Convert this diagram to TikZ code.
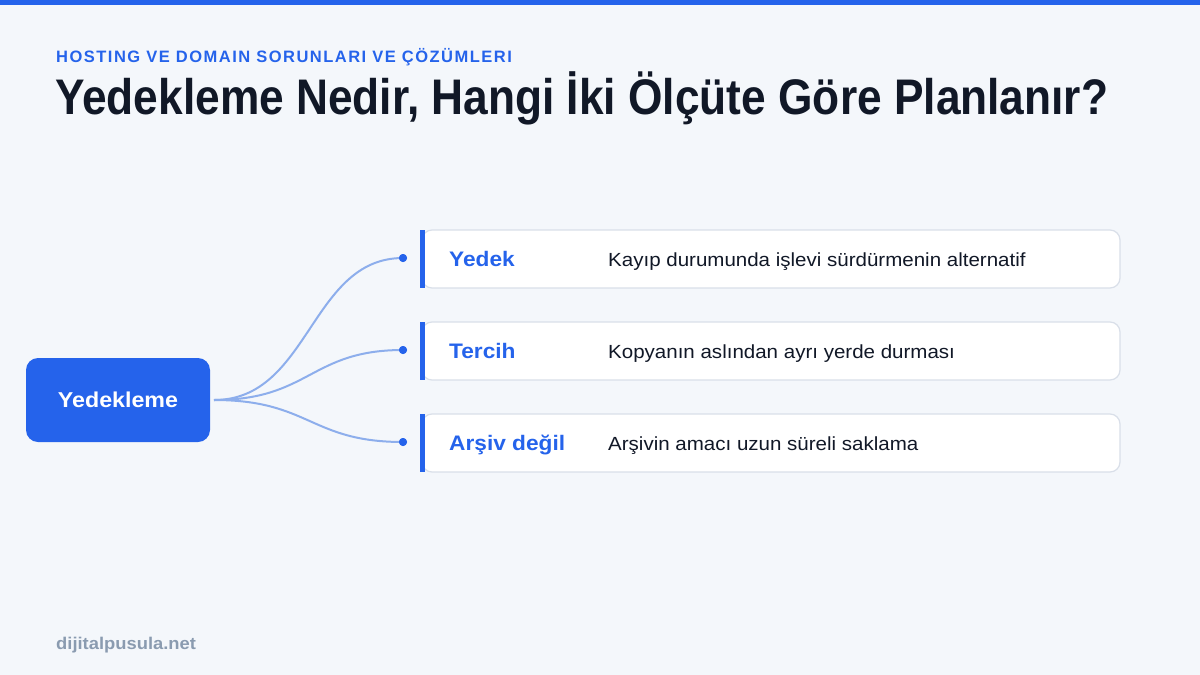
\documentclass[tikz,border=0pt]{standalone}
\usepackage{fontspec}
\setmainfont[FakeStretch=1.08]{Liberation Sans}
\newfontfamily\spacedfont[LetterSpace=9]{Liberation Sans}
\newfontfamily\titlefont{Liberation Sans}
\definecolor{bg}{HTML}{F4F7FB}
\definecolor{brand}{HTML}{2563EB}
\definecolor{curve}{HTML}{8DAEEC}
\definecolor{cardline}{HTML}{D9DFE9}
\definecolor{ink}{HTML}{111827}
\definecolor{muted}{HTML}{8A9BB0}
\tikzset{
  card/.style={draw=cardline, line width=1.2pt, fill=white, rounded corners=10pt, minimum width=698pt, minimum height=58pt, inner sep=0pt},
  accent/.style={fill=brand, draw=none},
  lbl/.style={anchor=base west, text=brand, font=\fontsize{21}{24}\selectfont\bfseries, inner sep=0pt},
  desc/.style={anchor=base west, text=ink, font=\fontsize{19}{22}\selectfont, inner sep=0pt},
  link/.style={draw=curve, line width=2pt},
  dotn/.style={circle, fill=brand, minimum size=8pt, inner sep=0pt},
}
\begin{document}
\begin{tikzpicture}[x=1pt,y=-1pt]
\useasboundingbox (0,0) rectangle (1200,675);
\fill[bg] (0,0) rectangle (1200,675);
\fill[brand] (0,0) rectangle (1200,5);
\node[anchor=base west, inner sep=0pt, text=brand, font=\spacedfont\fontsize{16.5}{20}\selectfont\bfseries] (sub) at (56,62) {HOSTING VE DOMAIN SORUNLARI VE ÇÖZÜMLERI};
\node[anchor=base west, inner sep=0pt, text=ink, font=\titlefont\fontsize{50}{60}\selectfont\bfseries] (title) at (55,114) {\resizebox{1053pt}{\height}{Yedekleme Nedir, Hangi İki Ölçüte Göre Planlanır?}};
% root
\node[fill=brand, rounded corners=12pt, minimum width=184pt, minimum height=84pt, inner sep=0pt, text=white, font=\fontsize{21.5}{24}\selectfont\bfseries] (root) at (118,400) {Yedekleme};
% cards
\foreach \i/\y/\a/\b in {1/259/Yedek/Kayıp durumunda işlevi sürdürmenin alternatif, 2/351/Tercih/Kopyanın aslından ayrı yerde durması, 3/443/Arşiv değil/Arşivin amacı uzun süreli saklama}{
  \node[card] (c\i) at (771,\y) {};
  \fill[accent] (420,\y-29) rectangle (425,\y+29);
  \node[lbl] (l\i) at (449,\y+7.5) {\a};
  \node[desc] (t\i) at (608,\y+7) {\b};
  \node[dotn] (d\i) at (403,\y-1) {};
}
\coordinate (r) at (214,400);
\draw[link] (r) .. controls (310,400) and (310,258) .. (d1.center);
\draw[link] (r) .. controls (310,400) and (310,350) .. (d2.center);
\draw[link] (r) .. controls (310,400) and (310,442) .. (d3.center);
\foreach \i in {1,2,3}{\node[dotn] at (d\i) {};}
\node[anchor=base west, inner sep=0pt, text=muted, font=\fontsize{17}{20}\selectfont\bfseries] (foot) at (56,649) {dijitalpusula.net};
\end{tikzpicture}
\end{document}
